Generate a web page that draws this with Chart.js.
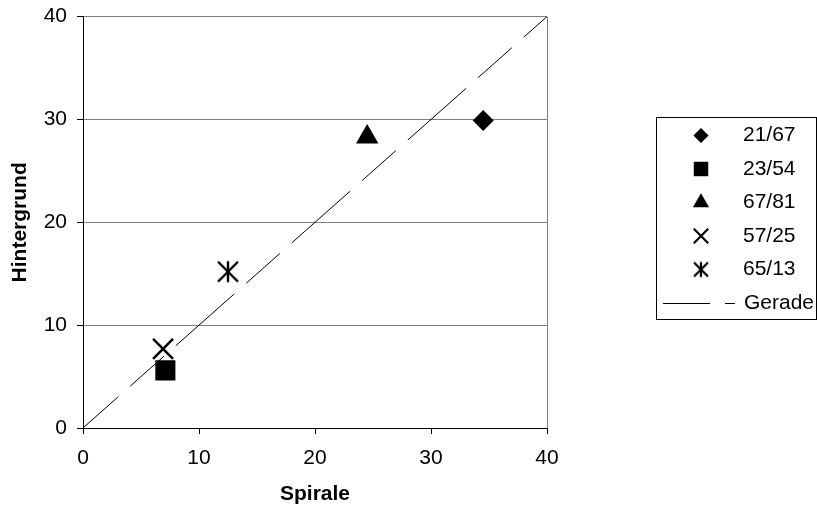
<!DOCTYPE html>
<html>
<head>
<meta charset="utf-8">
<script src="https://cdn.jsdelivr.net/npm/chart.js@4/dist/chart.umd.min.js"></script>
<style>
  body { margin: 0; background: #fff; }
  canvas { display: block; }
</style>
</head>
<body>
<canvas id="chart" width="817" height="511"></canvas>
<script>
/* --------------- Data --------------------- */
const series = ["21/67", "23/54", "67/81", "57/25", "65/13"];
const spirale = [34.5, 7.1, 24.5, 6.9, 12.5];
const hintergrund = [29.9, 5.6, 28.3, 7.7, 15.2];
const lineLabel = "Gerade";
const lineX = [40, 0];
const lineY = [40, 0];
const axisTicks = [0, 10, 20, 30, 40];

/* --------------- Marker images --------------------- */
// six-spoke asterisk (X plus vertical bar)
function asterisk(size, arm, lw) {
  const c = document.createElement("canvas");
  c.width = c.height = size;
  const g = c.getContext("2d");
  const m = size / 2;
  g.strokeStyle = "#000";
  g.lineWidth = lw;
  g.beginPath();
  g.moveTo(m, m - arm - 0.5); g.lineTo(m, m + arm + 0.5);
  g.moveTo(m - arm, m - arm); g.lineTo(m + arm, m + arm);
  g.moveTo(m + arm, m - arm); g.lineTo(m - arm, m + arm);
  g.stroke();
  return c;
}
const starBig = asterisk(24, 10, 2.4);
const starSmall = asterisk(18, 7, 2.2);

// per-series marker style
const markers = [
  { style: "rectRot", r: 10.5, bw: 0 },
  { style: "rect", r: 14.2, bw: 0 },
  { style: "triangle", r: 13, bw: 0 },
  { style: "crossRot", r: 14.1, bw: 2.5 },
  { style: starBig, r: 12, bw: 0, legendStyle: starSmall },
];

/* --------------- Boxed legend on the right --------------------- */
const boxLegend = {
  id: "boxLegend",
  afterDraw(chart) {
    const ctx = chart.ctx;
    const top = 135.5, step = 33.5, mx = 701, tx = 743;
    ctx.save();
    ctx.strokeStyle = "#000";
    ctx.lineWidth = 1;
    ctx.strokeRect(656.5, 117.5, 160, 202);
    ctx.fillStyle = "#000";
    ctx.font = '21px "Liberation Sans", Arial, sans-serif';
    ctx.textBaseline = "middle";
    series.forEach((name, i) => {
      const y = top + i * step;
      const m = markers[i];
      ctx.fillStyle = "#000";
      ctx.strokeStyle = "#000";
      ctx.lineWidth = m.bw ? 2.2 : 1;
      Chart.helpers.drawPoint(ctx, {
        pointStyle: m.legendStyle || m.style,
        radius: m.r * 0.72,
        borderWidth: m.bw ? 2.2 : 0,
        rotation: 0,
      }, mx, y);
      ctx.fillText(name, tx, y);
    });
    const gy = Math.round(top + series.length * step) + 0.5;
    ctx.beginPath();
    ctx.moveTo(663, gy); ctx.lineTo(710, gy);
    ctx.moveTo(725, gy); ctx.lineTo(735, gy);
    ctx.stroke();
    ctx.fillText(lineLabel, tx + 1, gy);
    ctx.restore();
  },
};

/* --------------- Chart --------------------- */
Chart.defaults.font.family = '"Liberation Sans", Arial, sans-serif';
Chart.defaults.font.size = 21;
Chart.defaults.color = "#000";

const datasets = series.map((name, i) => ({
  label: name,
  data: [{ x: spirale[i], y: hintergrund[i] }],
  pointStyle: markers[i].style,
  pointRadius: markers[i].r,
  pointBorderWidth: markers[i].bw,
  backgroundColor: "#000",
  borderColor: "#000",
}));
datasets.push({
  label: lineLabel,
  data: lineX.map((x, i) => ({ x: x, y: lineY[i] })),
  showLine: true,
  pointRadius: 0,
  borderColor: "#000",
  borderWidth: 1,
  borderDash: [78, 16, 45, 16],
  borderDashOffset: 47,
});

// fixed axis boxes so the plot area sits at a known place
function fitX(s) {
  s.height = 83;
  s.paddingLeft = 0; s.paddingRight = 0;
}
function fitY(s) {
  s.width = 83;
  s.paddingTop = 0; s.paddingBottom = 0;
}

new Chart(document.getElementById("chart"), {
  type: "scatter",
  data: { datasets: datasets },
  plugins: [boxLegend],
  options: {
    responsive: false,
    animation: false,
    events: [],
    layout: { padding: { top: 16, right: 270, bottom: 0, left: 0 } },
    plugins: { legend: { display: false }, tooltip: { enabled: false } },
    scales: {
      x: {
        type: "linear",
        min: axisTicks[0],
        max: axisTicks[axisTicks.length - 1],
        afterBuildTicks: (s) => { s.ticks = axisTicks.map((v) => ({ value: v })); },
        afterFit: fitX,
        ticks: { padding: 12 },
        grid: {
          color: (c) => (c.tick && c.tick.value === 40 ? "#808080" : "rgba(0,0,0,0)"),
          tickColor: "#000",
          tickLength: 6,
        },
        border: { color: "#000", width: 1 },
        title: { display: true, text: "Spirale", font: { weight: "bold" }, padding: { top: 0, bottom: 4 } },
      },
      y: {
        type: "linear",
        min: axisTicks[0],
        max: axisTicks[axisTicks.length - 1],
        afterBuildTicks: (s) => { s.ticks = axisTicks.map((v) => ({ value: v })); },
        afterFit: fitY,
        ticks: { padding: 10 },
        grid: { color: "#808080", tickColor: "#000", tickLength: 6 },
        border: { color: "#000", width: 1 },
        title: { display: true, text: "Hintergrund", font: { weight: "bold" }, padding: { top: 8, bottom: 0 } },
      },
    },
  },
});
</script>
</body>
</html>
